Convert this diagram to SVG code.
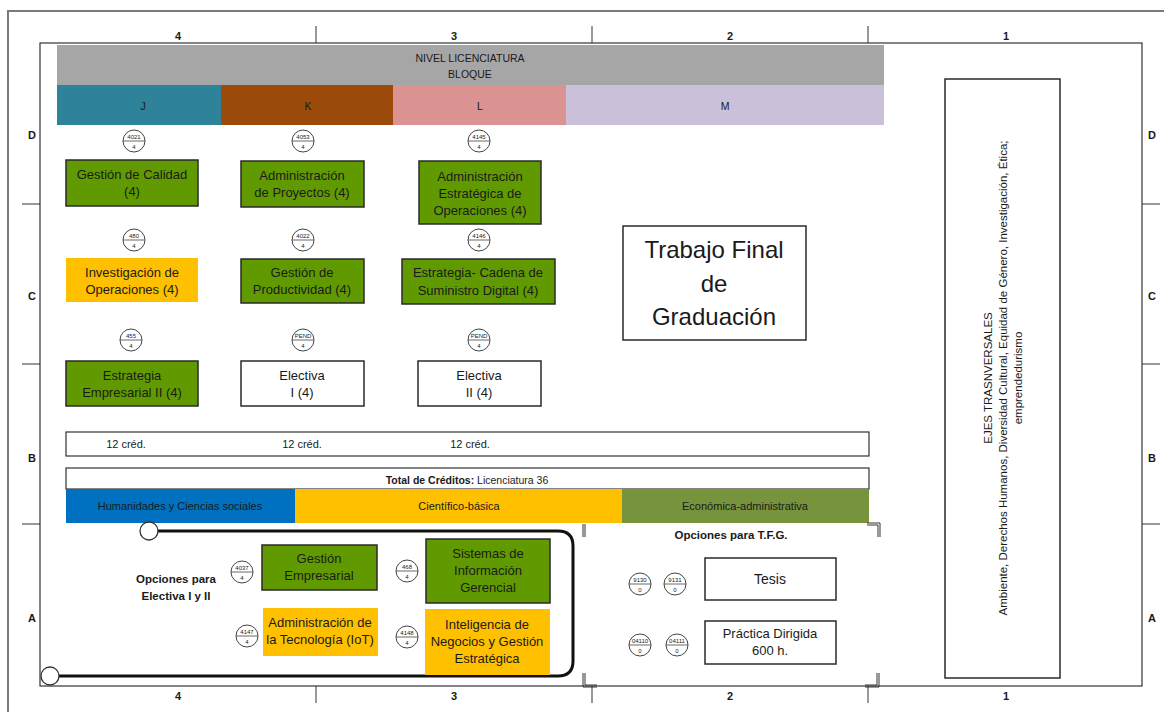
<svg xmlns="http://www.w3.org/2000/svg" width="1164" height="712" viewBox="0 0 1164 712">
<style>
text{font-family:"Liberation Sans",Arial,sans-serif;fill:#1a1a1a}
.grid{font-size:11px;font-weight:bold;text-anchor:middle}
.tick{stroke:#333;stroke-width:1}
.box{stroke:#2a2a2a;stroke-width:1.5}
.g{fill:#609A00}
.o{fill:#FFC000}
.w{fill:#fff}
.bt{font-size:13px;text-anchor:middle}
.code circle{fill:#fff;stroke:#444;stroke-width:1}
.code line{stroke:#444;stroke-width:0.8}
.code text{font-size:6px;text-anchor:middle}
.hdr{font-size:10.5px;text-anchor:middle}
.sm{font-size:11px;text-anchor:middle}
.bold{font-weight:bold}
</style>
<rect width="1164" height="712" fill="#fff"/>
<g id="frame">
<path d="M8,712 V11 H1164" fill="none" stroke="#7a7a7a" stroke-width="2"/>
<rect x="40" y="43" width="1102" height="643" fill="none" stroke="#333" stroke-width="1.2"/>
<line class="tick" x1="316" y1="26" x2="316" y2="43"/>
<line class="tick" x1="592" y1="26" x2="592" y2="43"/>
<line class="tick" x1="868" y1="26" x2="868" y2="43"/>
<line class="tick" x1="316" y1="686" x2="316" y2="703"/>
<line class="tick" x1="592" y1="686" x2="592" y2="703"/>
<line class="tick" x1="868" y1="686" x2="868" y2="703"/>
<line class="tick" x1="22" y1="204" x2="40" y2="204"/>
<line class="tick" x1="22" y1="364" x2="40" y2="364"/>
<line class="tick" x1="22" y1="524" x2="40" y2="524"/>
<line class="tick" x1="1142" y1="204" x2="1160" y2="204"/>
<line class="tick" x1="1142" y1="364" x2="1160" y2="364"/>
<line class="tick" x1="1142" y1="524" x2="1160" y2="524"/>
<text class="grid" x="178" y="40">4</text>
<text class="grid" x="454" y="40">3</text>
<text class="grid" x="730" y="40">2</text>
<text class="grid" x="1006" y="40">1</text>
<text class="grid" x="178" y="700">4</text>
<text class="grid" x="454" y="700">3</text>
<text class="grid" x="730" y="700">2</text>
<text class="grid" x="1006" y="700">1</text>
<text class="grid" x="32" y="139">D</text>
<text class="grid" x="32" y="300">C</text>
<text class="grid" x="32" y="462">B</text>
<text class="grid" x="32" y="622">A</text>
<text class="grid" x="1152" y="139">D</text>
<text class="grid" x="1152" y="300">C</text>
<text class="grid" x="1152" y="462">B</text>
<text class="grid" x="1152" y="622">A</text>
</g>
<g id="header">
<rect x="57" y="45" width="827" height="40" fill="#A6A6A6"/>
<text class="hdr" x="470" y="62">NIVEL LICENCIATURA</text>
<text class="hdr" x="470" y="78">BLOQUE</text>
<rect x="57" y="85" width="164" height="40" fill="#2E8299"/>
<rect x="221" y="85" width="172" height="40" fill="#9C4A0A"/>
<rect x="393" y="85" width="173" height="40" fill="#DA9390"/>
<rect x="566" y="85" width="318" height="40" fill="#CBC0DA"/>
<text class="hdr" x="143" y="110">J</text>
<text class="hdr" x="308" y="110">K</text>
<text class="hdr" x="480" y="110">L</text>
<text class="hdr" x="725" y="110">M</text>
</g>
<g id="codes">
<g class="code"><circle cx="134" cy="141" r="11"/><line x1="123" y1="141" x2="145" y2="141"/><text x="134" y="139">4021</text><text x="134" y="148.5">4</text></g>
<g class="code"><circle cx="303" cy="141" r="11"/><line x1="292" y1="141" x2="314" y2="141"/><text x="303" y="139">4053</text><text x="303" y="148.5">4</text></g>
<g class="code"><circle cx="479" cy="141" r="11"/><line x1="468" y1="141" x2="490" y2="141"/><text x="479" y="139">4145</text><text x="479" y="148.5">4</text></g>
<g class="code"><circle cx="134" cy="240" r="11"/><line x1="123" y1="240" x2="145" y2="240"/><text x="134" y="238">480</text><text x="134" y="247.5">4</text></g>
<g class="code"><circle cx="303" cy="240" r="11"/><line x1="292" y1="240" x2="314" y2="240"/><text x="303" y="238">4022</text><text x="303" y="247.5">4</text></g>
<g class="code"><circle cx="479" cy="240" r="11"/><line x1="468" y1="240" x2="490" y2="240"/><text x="479" y="238">4146</text><text x="479" y="247.5">4</text></g>
<g class="code"><circle cx="131" cy="340" r="11"/><line x1="120" y1="340" x2="142" y2="340"/><text x="131" y="338">455</text><text x="131" y="347.5">4</text></g>
<g class="code"><circle cx="303" cy="340" r="11"/><line x1="292" y1="340" x2="314" y2="340"/><text x="303" y="338">PEND</text><text x="303" y="347.5">4</text></g>
<g class="code"><circle cx="479" cy="340" r="11"/><line x1="468" y1="340" x2="490" y2="340"/><text x="479" y="338">PEND</text><text x="479" y="347.5">4</text></g>
</g>
<g id="n-gestion-calidad"><rect class="box g" x="66" y="160" width="132" height="46"/><text class="bt" x="132" y="179">Gestión de Calidad</text><text class="bt" x="132" y="196">(4)</text></g>
<g id="n-adm-proyectos"><rect class="box g" x="241" y="161" width="123" height="46"/><text class="bt" x="302" y="180">Administración</text><text class="bt" x="302" y="197">de Proyectos (4)</text></g>
<g id="n-adm-estrategica"><rect class="box g" x="419" y="161" width="122" height="63"/><text class="bt" x="480" y="181">Administración</text><text class="bt" x="480" y="198">Estratégica de</text><text class="bt" x="480" y="215">Operaciones (4)</text></g>
<g id="n-investigacion"><rect class="o" x="66" y="258" width="132" height="44"/><text class="bt" x="132" y="277">Investigación de</text><text class="bt" x="132" y="294">Operaciones (4)</text></g>
<g id="n-productividad"><rect class="box g" x="241" y="259" width="123" height="44"/><text class="bt" x="302" y="277">Gestión de</text><text class="bt" x="302" y="294">Productividad (4)</text></g>
<g id="n-cadena"><rect class="box g" x="402" y="259" width="153" height="45"/><text class="bt" x="478" y="277">Estrategia- Cadena de</text><text class="bt" x="478" y="295">Suministro Digital (4)</text></g>
<g id="n-estrategia-emp"><rect class="box g" x="66" y="361" width="132" height="45"/><text class="bt" x="132" y="380">Estrategia</text><text class="bt" x="132" y="397">Empresarial II (4)</text></g>
<g id="n-electiva1"><rect class="box w" x="241" y="361" width="123" height="45"/><text class="bt" x="302" y="380">Electiva</text><text class="bt" x="302" y="397">I (4)</text></g>
<g id="n-electiva2"><rect class="box w" x="418" y="361" width="123" height="45"/><text class="bt" x="479" y="380">Electiva</text><text class="bt" x="479" y="397">II (4)</text></g>
<g id="n-tfg"><rect class="box w" x="623" y="226" width="183" height="114"/>
<text x="714" y="258" font-size="24" text-anchor="middle">Trabajo Final</text>
<text x="714" y="292" font-size="24" text-anchor="middle">de</text>
<text x="714" y="325" font-size="24" text-anchor="middle">Graduación</text></g>
<g id="n-ejes"><rect class="box w" x="945" y="79" width="115" height="599"/>
<g transform="translate(1003,378) rotate(-90)">
<text x="0" y="-11" font-size="11.5" text-anchor="middle">EJES TRASNVERSALES</text>
<text x="0" y="4" font-size="11.5" text-anchor="middle">Ambiente, Derechos Humanos, Diversidad Cultural, Equidad de Género, Investigación, Ética;</text>
<text x="0" y="19" font-size="11.5" text-anchor="middle">emprendedurismo</text>
</g></g>
<g id="creditos">
<rect x="66" y="432" width="803" height="24" fill="#fff" stroke="#333" stroke-width="1.2"/>
<text class="sm" x="126" y="448">12 créd.</text>
<text class="sm" x="302" y="448">12 créd.</text>
<text class="sm" x="470" y="448">12 créd.</text>
</g>
<g id="areas">
<rect x="66" y="468" width="803" height="21" fill="#fff" stroke="#333" stroke-width="1.2"/>
<text x="467" y="484" font-size="10.5" text-anchor="middle"><tspan font-weight="bold">Total de Créditos:</tspan> Licenciatura 36</text>
<rect x="66" y="489" width="229" height="34" fill="#0070C0"/>
<rect x="295" y="489" width="327" height="34" fill="#FFC000"/>
<rect x="622" y="489" width="247" height="34" fill="#77933C"/>
<text class="sm" x="180" y="510">Humanidades y Ciencias sociales</text>
<text class="sm" x="459" y="510">Científico-básica</text>
<text class="sm" x="745" y="510">Económica-administrativa</text>
</g>
<g id="connectors">
<path d="M157,531 H558 Q573,531 573,546 V661 Q573,676 558,676 H59" fill="none" stroke="#111" stroke-width="3"/>
<circle cx="149" cy="531" r="9" fill="#fff" stroke="#333" stroke-width="1.3"/>
<circle cx="50" cy="676" r="9" fill="#fff" stroke="#333" stroke-width="1.3"/>
</g>
<g id="electivas">
<text class="bold" x="176" y="583" font-size="11.5" text-anchor="middle">Opciones para</text>
<text class="bold" x="176" y="600" font-size="11.5" text-anchor="middle">Electiva I y II</text>
<g class="code"><circle cx="242" cy="572" r="11"/><line x1="231" y1="572" x2="253" y2="572"/><text x="242" y="570">4037</text><text x="242" y="579.5">4</text></g>
<g class="code"><circle cx="407" cy="571" r="11"/><line x1="396" y1="571" x2="418" y2="571"/><text x="407" y="569">468</text><text x="407" y="578.5">4</text></g>
<g class="code"><circle cx="247" cy="636" r="11"/><line x1="236" y1="636" x2="258" y2="636"/><text x="247" y="634">4147</text><text x="247" y="643.5">4</text></g>
<g class="code"><circle cx="407" cy="637" r="11"/><line x1="396" y1="637" x2="418" y2="637"/><text x="407" y="635">4148</text><text x="407" y="644.5">4</text></g>
</g>
<g id="n-gestion-emp"><rect class="box g" x="262" y="545" width="115" height="45"/><text class="bt" x="319" y="563">Gestión</text><text class="bt" x="319" y="580">Empresarial</text></g>
<g id="n-sistemas"><rect class="box g" x="426" y="539" width="124" height="64"/><text class="bt" x="488" y="558">Sistemas de</text><text class="bt" x="488" y="575">Información</text><text class="bt" x="488" y="592">Gerencial</text></g>
<g id="n-adm-tecnologia"><rect class="o" x="263" y="608" width="115" height="48"/><text class="bt" x="320" y="627">Administración de</text><text class="bt" x="320" y="644">la Tecnología (IoT)</text></g>
<g id="n-inteligencia"><rect class="o" x="425" y="609" width="125" height="66"/><text class="bt" x="487" y="629">Inteligencia de</text><text class="bt" x="487" y="646">Negocios y Gestión</text><text class="bt" x="487" y="663">Estratégica</text></g>
<g id="tfg-opciones">
<path d="M583,524 V537 M585,524 V537 M867,523 H880 V537 M867,525 H878 V537 M583,673 V687 H597 M585,673 V685 H597 M879,673 V687 H865 M877,673 V685 H865" fill="none" stroke="#333" stroke-width="1"/>
<text class="bold" x="731" y="539" font-size="11.5" text-anchor="middle">Opciones para T.F.G.</text>
<g class="code"><circle cx="640" cy="584" r="11"/><line x1="629" y1="584" x2="651" y2="584"/><text x="640" y="582">9130</text><text x="640" y="591.5">0</text></g>
<g class="code"><circle cx="675" cy="584" r="11"/><line x1="664" y1="584" x2="686" y2="584"/><text x="675" y="582">9131</text><text x="675" y="591.5">0</text></g>
<g class="code"><circle cx="640" cy="645" r="11"/><line x1="629" y1="645" x2="651" y2="645"/><text x="640" y="643">04110</text><text x="640" y="652.5">0</text></g>
<g class="code"><circle cx="677" cy="645" r="11"/><line x1="666" y1="645" x2="688" y2="645"/><text x="677" y="643">04111</text><text x="677" y="652.5">0</text></g>
</g>
<g id="n-tesis"><rect class="box w" x="705" y="558" width="131" height="42"/><text x="770" y="584" font-size="14" text-anchor="middle">Tesis</text></g>
<g id="n-practica"><rect class="box w" x="705" y="621" width="131" height="43"/><text class="bt" x="770" y="638">Práctica Dirigida</text><text class="bt" x="770" y="655">600 h.</text></g>
</svg>
